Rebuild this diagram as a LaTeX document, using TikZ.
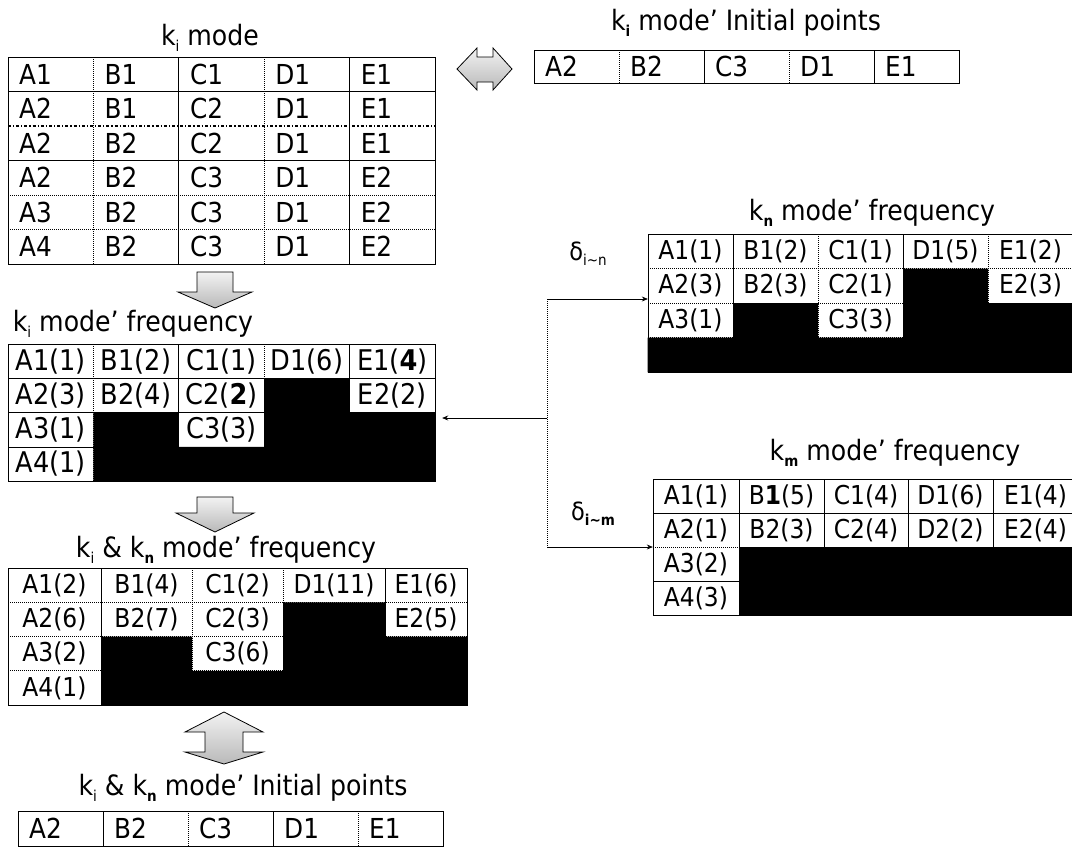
\documentclass[tikz,border=0pt]{standalone}
\usepackage{fontspec}
\setmainfont{DejaVu Sans}[FakeStretch=0.9]
\usetikzlibrary{arrows.meta}

% lowered small subscript
\newcommand\sbs[1]{\raisebox{-0.35ex}{\fontsize{15}{15}\selectfont #1}}
\newcommand\bsbs[1]{\sbs{\bfseries #1}}
\protected\def\bd#1{{\bfseries #1}}

% column borders of the tables
\def\colsF{{8,93.4,178.8,264.2,349.6,435}}
\def\colsG{{8,101,192,283,385,467}}
\def\colsN{{648,733,818,903,988,1073}}
\def\colsM{{653,739,824,908,993,1078}}

% centred cells: name, column array, top, row height, list row/col/text
\newcommand\freqcells[5]{%
  \foreach \ro/\co/\tx in {#5}{%
    \pgfmathsetmacro\xl{#2[\co-1]}%
    \pgfmathsetmacro\xr{#2[\co]}%
    \pgfmathsetmacro\yt{#3+(\ro-1)*#4}%
    \node[ccell, minimum width={\xr-\xl}, minimum height={#4}]
      (#1-\ro-\co) at ({(\xl+\xr)/2},{\yt+#4/2}) {\tx};
  }}

% left aligned cells: name, left x, column width, top, row height, list row/col/text
\newcommand\modecells[6]{%
  \foreach \ro/\co/\tx in {#6}{%
    \node[lcell] (#1-\ro-\co) at ({#2+(\co-1)*#3+11},{#4+(\ro-0.5)*#5}) {\tx};
  }}

\begin{document}
\begin{tikzpicture}[x=1pt,y=-1pt,
  cellfont/.style={font=\fontsize{26}{26}\selectfont},
  title/.style={font=\fontsize{28}{28}\selectfont, inner sep=0pt},
  ccell/.style={cellfont, inner sep=0pt, anchor=center},
  lcell/.style={font=\fontsize{27.5}{27.5}\selectfont, inner sep=0pt, anchor=west},
  bigcell/.style={font=\fontsize{28.5}{28.5}\selectfont},
  solidline/.style={line width=0.7pt},
  dotline/.style={line width=1pt, densely dotted},
  blockarrow/.style={draw=black, line width=0.8pt, top color=gray!10, bottom color=gray!55},
  link/.style={line width=0.7pt, -{Stealth[length=6pt,width=5pt]}},
]
\useasboundingbox (0,0) rectangle (1072,849);

% ---------------- k_i mode ----------------
\node[title] (tA) at (210,38) {k\sbs{i} mode};
\draw[solidline] (8,57) rectangle (435,264);
\draw[dotline] (93.4,57) -- (93.4,264) (264.2,57) -- (264.2,264);
\draw[solidline] (178.8,57) -- (178.8,264) (349.6,57) -- (349.6,264);
\draw[solidline] (8,91.5) -- (435,91.5) (8,160.5) -- (435,160.5);
\draw[line width=1.2pt, dash dot] (8,126) -- (435,126);
\draw[dotline] (8,195) -- (435,195) (8,229.5) -- (435,229.5);
\modecells{a}{8}{85.4}{57}{34.5}{1/1/A1,1/2/B1,1/3/C1,1/4/D1,1/5/E1,
  2/1/A2,2/2/B1,2/3/C2,2/4/D1,2/5/E1,
  3/1/A2,3/2/B2,3/3/C2,3/4/D1,3/5/E1,
  4/1/A2,4/2/B2,4/3/C3,4/4/D1,4/5/E2,
  5/1/A3,5/2/B2,5/3/C3,5/4/D1,5/5/E2,
  6/1/A4,6/2/B2,6/3/C3,6/4/D1,6/5/E2}

% ---------------- k_i mode' initial points ----------------
\node[title] (tQ) at (746,23) {k\bsbs{i} mode’ Initial points};
\draw[solidline] (534,50) rectangle (959,83);
\draw[dotline] (534,50) -- (959,50);
\draw[dotline] (619,50) -- (619,83) (789,50) -- (789,83);
\draw[solidline] (704,50) -- (704,83) (874,50) -- (874,83);
\modecells{q}{534}{85}{50}{33}{1/1/A2,1/2/B2,1/3/C3,1/4/D1,1/5/E1}

% two-way block arrow between mode table and initial points
\draw[blockarrow] (457,69) -- (477,48) -- (477,57) -- (493,57) -- (493,48) -- (512,69)
  -- (493,90) -- (493,82) -- (477,82) -- (477,90) -- cycle;

% down block arrow
\draw[blockarrow] (197,272) -- (233,272) -- (233,292) -- (252,292) -- (215,308)
  -- (178,292) -- (197,292) -- cycle;

% ---------------- k_i mode' frequency ----------------
\node[title] (tF) at (133,324) {k\sbs{i} mode’ frequency};
\draw[solidline] (8,344) rectangle (435,481);
\draw[dotline] (93.4,344) -- (93.4,481) (264.2,344) -- (264.2,481);
\draw[solidline] (178.8,344) -- (178.8,481) (349.6,344) -- (349.6,481);
\draw[solidline] (8,378.3) -- (435,378.3) (8,412.6) -- (435,412.6) (8,446.9) -- (435,446.9);
\fill[black] (264.2,378.3) rectangle (349.6,481.4)
  (93.4,412.6) rectangle (178.8,481.4)
  (349.6,412.6) rectangle (435.4,481.4)
  (178.8,446.9) rectangle (264.2,481.4);
\begin{scope}[ccell/.append style={bigcell}]
\freqcells{f}{\colsF}{344}{34.3}{1/1/A1(1),1/2/B1(2),1/3/C1(1),1/4/D1(6),1/5/E1(\bd{4}),
  2/1/A2(3),2/2/B2(4),2/3/C2(\bd{2}),2/5/E2(2),
  3/1/A3(1),3/3/C3(3),4/1/A4(1)}
\end{scope}

% down block arrow
\draw[blockarrow] (197,497) -- (233,497) -- (233,513) -- (254,513) -- (215,532)
  -- (176,513) -- (197,513) -- cycle;

% ---------------- k_i & k_n mode' frequency ----------------
\node[title] (tG) at (226,550) {k\sbs{i} \& k\bsbs{n} mode’ frequency};
\draw[solidline] (8,568) rectangle (467,705);
\draw[dotline] (8,568) -- (467,568);
\draw[solidline] (101,568) -- (101,705) (385,568) -- (385,705);
\draw[dotline] (192,568) -- (192,705) (283,568) -- (283,705);
\draw[dotline] (8,602.25) -- (467,602.25) (8,636.5) -- (467,636.5) (8,670.75) -- (467,670.75);
\fill[black] (283,602.25) rectangle (385,705.4)
  (101,636.5) rectangle (192,705.4)
  (385,636.5) rectangle (467.4,705.4)
  (192,670.75) rectangle (283,705.4);
\freqcells{g}{\colsG}{568}{34.25}{1/1/A1(2),1/2/B1(4),1/3/C1(2),1/4/D1(11),1/5/E1(6),
  2/1/A2(6),2/2/B2(7),2/3/C2(3),2/5/E2(5),
  3/1/A3(2),3/3/C3(6),4/1/A4(1)}

% two-way vertical block arrow
\draw[blockarrow] (224,712) -- (263,732) -- (243,732) -- (243,752) -- (263,752) -- (224,764)
  -- (185,752) -- (205,752) -- (205,732) -- (185,732) -- cycle;

% ---------------- k_i & k_n mode' initial points ----------------
\node[title] (tP) at (243,788) {k\sbs{i} \& k\bsbs{n} mode’ Initial points};
\draw[solidline] (18,811) rectangle (443,846);
\draw[dotline] (18,811) -- (443,811);
\draw[solidline] (103,811) -- (103,846) (273,811) -- (273,846);
\draw[dotline] (188,811) -- (188,846) (358,811) -- (358,846);
\modecells{p}{18}{85}{811}{35}{1/1/A2,1/2/B2,1/3/C3,1/4/D1,1/5/E1}

% ---------------- k_n mode' frequency ----------------
\node[title] (tN) at (872,213) {k\bsbs{n} mode’ frequency};
\draw[solidline] (648,234) rectangle (1073,372);
\draw[dotline] (648,234) -- (648,372) (648,234) -- (1073,234);
\draw[solidline] (733,234) -- (733,372) (903,234) -- (903,372);
\draw[dotline] (818,234) -- (818,372) (988,234) -- (988,372);
\draw[dotline] (648,268.5) -- (1073,268.5) (648,303) -- (1073,303) (648,337.5) -- (1073,337.5);
\fill[black] (903,268.5) rectangle (988,372.4)
  (733,303) rectangle (818,337.5)
  (988,303) rectangle (1073,372.4)
  (647.6,337.5) rectangle (1073,372.4);
\freqcells{n}{\colsN}{234}{34.5}{1/1/A1(1),1/2/B1(2),1/3/C1(1),1/4/D1(5),1/5/E1(2),
  2/1/A2(3),2/2/B2(3),2/3/C2(1),2/5/E2(3),
  3/1/A3(1),3/3/C3(3)}

% ---------------- k_m mode' frequency ----------------
\node[title] (tM) at (895,453) {k\bsbs{m} mode’ frequency};
\draw[solidline] (653,479) rectangle (1078,615);
\draw[solidline] (739,479) -- (739,615) (824,479) -- (824,615) (908,479) -- (908,615) (993,479) -- (993,615);
\draw[solidline] (653,513) -- (1078,513) (653,581) -- (1078,581);
\draw[dotline] (653,547) -- (1078,547);
\fill[black] (739,547) rectangle (1078,615.4);
\freqcells{m}{\colsM}{479}{34}{1/1/A1(1),1/2/B\bd{1}(5),1/3/C1(4),1/4/D1(6),1/5/E1(4),
  2/1/A2(1),2/2/B2(3),2/3/C2(4),2/4/D2(2),2/5/E2(4),
  3/1/A3(2),4/1/A4(3)}

% ---------------- connectors ----------------
\coordinate (jn) at (547,299);
\coordinate (jm) at (547,547);
\coordinate (jf) at (547,418);
\draw[dotline] (jn) -- (jm);
\draw[link] (jn) -- (jn -| n-2-1.west);
\draw[link] (jm) -- (jm -| m-3-1.west);
\draw[link] (jf) -- ([xshift=7]jf -| f-1-5.east);
\node[title, font=\fontsize{25}{25}\selectfont] (dn) at (588,254) {δ\sbs{i\textasciitilde n}};
\node[title, font=\fontsize{25}{25}\selectfont] (dm) at (593,514) {δ\bsbs{i\textasciitilde m}};
\end{tikzpicture}
\end{document}
